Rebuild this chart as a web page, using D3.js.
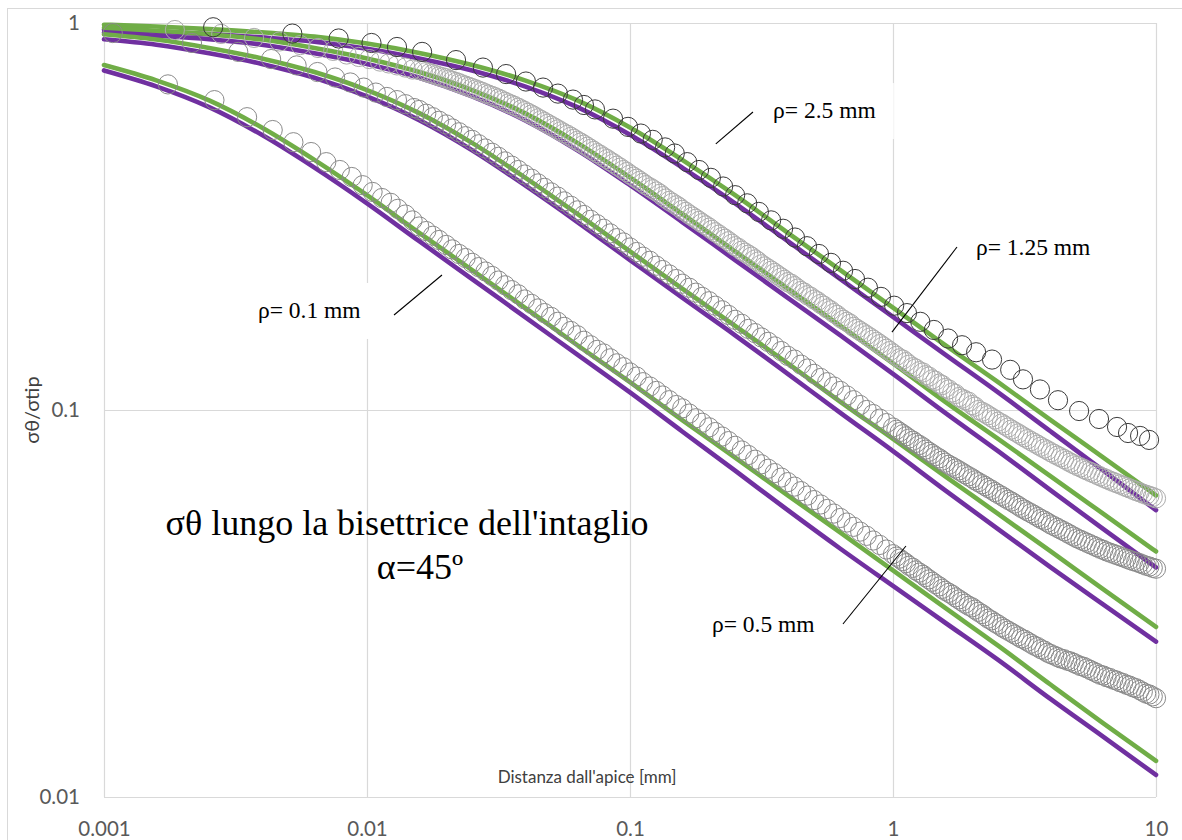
<!DOCTYPE html>
<html>
<head>
<meta charset="utf-8">
<script src="https://cdn.jsdelivr.net/npm/d3@7"></script>
<style>
  html, body { margin: 0; padding: 0; background: #ffffff; }
  svg { display: block; }
</style>
</head>
<body>
<svg id="chart" width="1182" height="840"></svg>
<script>
// ---------------------------------------------------------------
// σθ/σtip along the notch bisector, log-log, α = 45°
// ---------------------------------------------------------------

// Axis ticks
const xTicks = [0.001, 0.01, 0.1, 1, 10];
const yTicks = [0.01, 0.1, 1];

// Distances (mm) at which the two analytical solutions are tabulated
const lineX = [0.001, 0.00158, 0.00251, 0.00398, 0.00631, 0.01, 0.0158, 0.0251, 0.0398, 0.0631,
               0.1, 0.158, 0.251, 0.398, 0.631, 1, 1.58, 2.51, 3.98, 6.31, 10];

// Analytical solution 1 (green)
const greenRho25  = [0.990, 0.979, 0.964, 0.946, 0.922, 0.885, 0.837, 0.779, 0.711, 0.631, 0.537, 0.443, 0.359, 0.287, 0.230, 0.184, 0.147, 0.118, 0.0942, 0.0753, 0.0602];
const greenRho125 = [0.972, 0.955, 0.935, 0.906, 0.862, 0.810, 0.747, 0.671, 0.585, 0.490, 0.399, 0.321, 0.257, 0.206, 0.165, 0.132, 0.105, 0.0842, 0.0674, 0.0539, 0.0431];
const greenRho05  = [0.935, 0.906, 0.862, 0.810, 0.747, 0.671, 0.585, 0.490, 0.399, 0.321, 0.257, 0.206, 0.165, 0.132, 0.105, 0.0842, 0.0674, 0.0539, 0.0431, 0.0344, 0.0275];
const greenRho01  = [0.779, 0.711, 0.631, 0.537, 0.443, 0.359, 0.287, 0.230, 0.184, 0.147, 0.118, 0.0942, 0.0753, 0.0602, 0.0482, 0.0385, 0.0308, 0.0246, 0.0195, 0.0155, 0.0124];

// Analytical solution 2 (purple)
const purpleRho25  = [0.961, 0.950, 0.936, 0.918, 0.895, 0.858, 0.810, 0.754, 0.686, 0.606, 0.514, 0.423, 0.342, 0.273, 0.218, 0.174, 0.139, 0.111, 0.0880, 0.0697, 0.0551];
const purpleRho125 = [0.944, 0.927, 0.908, 0.879, 0.835, 0.784, 0.722, 0.646, 0.561, 0.469, 0.381, 0.306, 0.244, 0.195, 0.156, 0.124, 0.0983, 0.0783, 0.0620, 0.0492, 0.0392];
const purpleRho05  = [0.908, 0.879, 0.835, 0.784, 0.722, 0.646, 0.561, 0.469, 0.381, 0.306, 0.244, 0.195, 0.156, 0.124, 0.0983, 0.0783, 0.0620, 0.0492, 0.0392, 0.0314, 0.0252];
const purpleRho01  = [0.754, 0.686, 0.606, 0.514, 0.423, 0.342, 0.273, 0.218, 0.174, 0.139, 0.111, 0.0880, 0.0697, 0.0551, 0.0438, 0.0351, 0.0282, 0.0226, 0.0179, 0.0143, 0.0114];

// FEM nodes, ρ = 2.5 mm
const femXRho25 = [0.0026, 0.0052, 0.0078, 0.0104, 0.013, 0.0162, 0.0218, 0.0276, 0.0338, 0.0402,
                   0.0467, 0.0532, 0.0607, 0.0668, 0.0736, 0.0862, 0.0983, 0.110, 0.122, 0.136,
                   0.148, 0.165, 0.183, 0.203, 0.226, 0.251, 0.279, 0.309, 0.344, 0.382,
                   0.424, 0.471, 0.523, 0.581, 0.646, 0.717, 0.803, 0.900, 1.01, 1.13,
                   1.27, 1.43, 1.62, 1.83, 2.07, 2.38, 2.79, 3.12, 3.62, 4.24,
                   5.10, 6.07, 7.11, 7.83, 8.70, 9.41];
const femYRho25 = [0.975, 0.939, 0.912, 0.888, 0.867, 0.842, 0.802, 0.767, 0.738, 0.706,
                   0.681, 0.657, 0.634, 0.614, 0.598, 0.566, 0.539, 0.518, 0.499, 0.477,
                   0.460, 0.437, 0.417, 0.398, 0.378, 0.359, 0.342, 0.325, 0.309, 0.294,
                   0.279, 0.265, 0.253, 0.240, 0.229, 0.218, 0.207, 0.196, 0.186, 0.178,
                   0.169, 0.161, 0.153, 0.147, 0.141, 0.135, 0.127, 0.120, 0.113, 0.106,
                   0.0994, 0.0948, 0.0904, 0.0872, 0.0857, 0.0837];

// FEM nodes near the tip (uniform spacing) for the three finer meshes
const femXRho125Near = [0.00186, 0.00279, 0.00372, 0.00465, 0.00558, 0.00651, 0.00744, 0.00837, 0.0093, 0.0102, 0.0112, 0.0121, 0.013, 0.014, 0.0149];
const femYRho125Near = [0.959, 0.937, 0.915, 0.896, 0.877, 0.862, 0.847, 0.829, 0.817, 0.807, 0.795, 0.786, 0.777, 0.767, 0.758];
const femXRho05Near  = [0.00108, 0.00216, 0.00324, 0.00432, 0.0054, 0.00648, 0.00756, 0.00864, 0.00972, 0.0108, 0.0119, 0.013, 0.014, 0.0151];
const femYRho05Near  = [0.942, 0.888, 0.842, 0.807, 0.777, 0.747, 0.723, 0.702, 0.681, 0.661, 0.644, 0.632, 0.617, 0.603];
const femXRho01Near  = [0.00175, 0.00263, 0.0035, 0.00438, 0.00525, 0.00613, 0.007, 0.00788, 0.00875, 0.00963, 0.0105, 0.0114, 0.0123, 0.0131, 0.014, 0.0149];
const femYRho01Near  = [0.694, 0.632, 0.571, 0.529, 0.492, 0.464, 0.437, 0.417, 0.400, 0.381, 0.366, 0.353, 0.343, 0.331, 0.320, 0.309];

// FEM nodes further out (graded mesh, shared by the three finer meshes)
const femXFar = [0.0158, 0.0168, 0.0178, 0.0188, 0.0200, 0.0211, 0.0224, 0.0237, 0.0251, 0.0266,
                 0.0282, 0.0299, 0.0316, 0.0335, 0.0355, 0.0376, 0.0398, 0.0422, 0.0447, 0.0473,
                 0.0501, 0.0531, 0.0562, 0.0596, 0.0631, 0.0668, 0.0708, 0.0750, 0.0794, 0.0841,
                 0.0891, 0.0944, 0.100, 0.106, 0.112, 0.119, 0.126, 0.133, 0.141, 0.150,
                 0.158, 0.168, 0.178, 0.188, 0.200, 0.211, 0.224, 0.237, 0.251, 0.266,
                 0.282, 0.299, 0.316, 0.335, 0.355, 0.376, 0.398, 0.422, 0.447, 0.473,
                 0.501, 0.531, 0.562, 0.596, 0.631, 0.668, 0.708, 0.750, 0.794, 0.841,
                 0.891, 0.944, 1.00, 1.06, 1.12, 1.19, 1.26, 1.33, 1.41, 1.50,
                 1.58, 1.68, 1.78, 1.88, 2.00, 2.11, 2.24, 2.37, 2.51, 2.66,
                 2.82, 2.99, 3.16, 3.35, 3.55, 3.76, 3.98, 4.22, 4.47, 4.73,
                 5.01, 5.31, 5.62, 5.96, 6.31, 6.68, 7.08, 7.50, 7.94, 8.41,
                 8.91, 9.44, 10.0];
const femYRho125Far = [0.756, 0.747, 0.738, 0.728, 0.720, 0.709, 0.699, 0.689, 0.679, 0.669,
                       0.658, 0.648, 0.638, 0.626, 0.615, 0.604, 0.592, 0.580, 0.567, 0.555,
                       0.543, 0.531, 0.519, 0.508, 0.496, 0.485, 0.473, 0.461, 0.450, 0.439,
                       0.428, 0.417, 0.406, 0.396, 0.386, 0.376, 0.367, 0.357, 0.347, 0.338,
                       0.329, 0.320, 0.312, 0.304, 0.296, 0.288, 0.280, 0.273, 0.265, 0.258,
                       0.252, 0.245, 0.238, 0.232, 0.226, 0.220, 0.214, 0.209, 0.203, 0.198,
                       0.193, 0.188, 0.183, 0.178, 0.173, 0.169, 0.164, 0.160, 0.156, 0.152,
                       0.148, 0.144, 0.140, 0.136, 0.133, 0.129, 0.126, 0.123, 0.120, 0.117,
                       0.114, 0.111, 0.108, 0.106, 0.103, 0.100, 0.0980, 0.0957, 0.0933, 0.0912,
                       0.0890, 0.0870, 0.0850, 0.0831, 0.0813, 0.0795, 0.0778, 0.0762, 0.0747, 0.0731,
                       0.0717, 0.0704, 0.0692, 0.0680, 0.0668, 0.0657, 0.0647, 0.0637, 0.0627, 0.0617,
                       0.0608, 0.0600, 0.0591];
const femYRho05Far = [0.596, 0.583, 0.571, 0.559, 0.547, 0.534, 0.522, 0.510, 0.499, 0.486,
                      0.474, 0.462, 0.451, 0.439, 0.428, 0.417, 0.406, 0.396, 0.385, 0.375,
                      0.365, 0.356, 0.346, 0.337, 0.328, 0.319, 0.310, 0.302, 0.294, 0.286,
                      0.278, 0.271, 0.263, 0.256, 0.249, 0.243, 0.236, 0.230, 0.224, 0.218,
                      0.212, 0.207, 0.201, 0.196, 0.191, 0.186, 0.181, 0.176, 0.171, 0.167,
                      0.162, 0.158, 0.154, 0.150, 0.146, 0.142, 0.138, 0.135, 0.131, 0.128,
                      0.124, 0.121, 0.118, 0.115, 0.112, 0.109, 0.106, 0.103, 0.100, 0.0976,
                      0.0950, 0.0925, 0.0901, 0.0877, 0.0855, 0.0833, 0.0812, 0.0790, 0.0770, 0.0750,
                      0.0731, 0.0714, 0.0698, 0.0682, 0.0666, 0.0651, 0.0636, 0.0622, 0.0607, 0.0593,
                      0.0580, 0.0566, 0.0553, 0.0541, 0.0529, 0.0518, 0.0506, 0.0496, 0.0486, 0.0476,
                      0.0466, 0.0458, 0.0450, 0.0442, 0.0435, 0.0428, 0.0422, 0.0416, 0.0410, 0.0405,
                      0.0399, 0.0394, 0.0389];
const femYRho01Far = [0.298, 0.290, 0.282, 0.275, 0.267, 0.260, 0.253, 0.247, 0.240, 0.234,
                      0.228, 0.222, 0.216, 0.210, 0.204, 0.199, 0.193, 0.188, 0.183, 0.178,
                      0.174, 0.169, 0.164, 0.160, 0.156, 0.151, 0.147, 0.143, 0.140, 0.136,
                      0.132, 0.129, 0.125, 0.122, 0.118, 0.115, 0.112, 0.109, 0.106, 0.103,
                      0.101, 0.0979, 0.0952, 0.0927, 0.0902, 0.0877, 0.0854, 0.0831, 0.0808, 0.0786,
                      0.0765, 0.0744, 0.0724, 0.0705, 0.0687, 0.0669, 0.0651, 0.0634, 0.0617, 0.0601,
                      0.0585, 0.0570, 0.0555, 0.0540, 0.0526, 0.0512, 0.0499, 0.0485, 0.0473, 0.0460,
                      0.0448, 0.0436, 0.0424, 0.0413, 0.0402, 0.0391, 0.0380, 0.0370, 0.0360, 0.0350,
                      0.0341, 0.0333, 0.0324, 0.0316, 0.0309, 0.0301, 0.0293, 0.0286, 0.0279, 0.0272,
                      0.0266, 0.0260, 0.0255, 0.0249, 0.0244, 0.0239, 0.0234, 0.0230, 0.0227, 0.0224,
                      0.0220, 0.0217, 0.0213, 0.0209, 0.0206, 0.0203, 0.0200, 0.0197, 0.0194, 0.0191,
                      0.0187, 0.0184, 0.0180];

// Intermediate nodes of the refined outer mesh (all of ρ = 1.25 mm, and x ≥ 1 mm for ρ = 0.5 / 0.1 mm)
const femXMid = [0.0163, 0.0173, 0.0183, 0.0194, 0.0205, 0.0218, 0.0230, 0.0244, 0.0259, 0.0274,
                 0.0290, 0.0307, 0.0325, 0.0345, 0.0365, 0.0387, 0.0410, 0.0434, 0.0460, 0.0487,
                 0.0516, 0.0546, 0.0579, 0.0613, 0.0649, 0.0688, 0.0729, 0.0772, 0.0818, 0.0866,
                 0.0917, 0.0972, 0.103, 0.109, 0.115, 0.122, 0.130, 0.137, 0.145, 0.154,
                 0.163, 0.173, 0.183, 0.194, 0.205, 0.218, 0.230, 0.244, 0.259, 0.274,
                 0.290, 0.307, 0.325, 0.345, 0.365, 0.387, 0.410, 0.434, 0.460, 0.487,
                 0.516, 0.546, 0.579, 0.613, 0.649, 0.688, 0.729, 0.772, 0.818, 0.866,
                 0.917, 0.972, 1.03, 1.09, 1.15, 1.22, 1.30, 1.37, 1.45, 1.54,
                 1.63, 1.73, 1.83, 1.94, 2.05, 2.18, 2.30, 2.44, 2.59, 2.74,
                 2.90, 3.07, 3.25, 3.45, 3.65, 3.87, 4.10, 4.34, 4.60, 4.87,
                 5.16, 5.46, 5.79, 6.13, 6.49, 6.88, 7.29, 7.72, 8.18, 8.66,
                 9.17, 9.72];
const femYRho125Mid = [0.752, 0.742, 0.733, 0.724, 0.714, 0.704, 0.694, 0.684, 0.674, 0.664,
                       0.653, 0.643, 0.632, 0.620, 0.610, 0.598, 0.586, 0.574, 0.561, 0.549,
                       0.537, 0.525, 0.514, 0.502, 0.491, 0.479, 0.467, 0.456, 0.445, 0.434,
                       0.423, 0.412, 0.401, 0.391, 0.381, 0.372, 0.362, 0.352, 0.343, 0.334,
                       0.325, 0.316, 0.308, 0.300, 0.292, 0.284, 0.277, 0.269, 0.262, 0.255,
                       0.249, 0.242, 0.235, 0.229, 0.223, 0.217, 0.212, 0.206, 0.201, 0.196,
                       0.191, 0.186, 0.181, 0.176, 0.171, 0.167, 0.162, 0.158, 0.154, 0.150,
                       0.146, 0.142, 0.138, 0.135, 0.131, 0.128, 0.125, 0.122, 0.119, 0.116,
                       0.113, 0.110, 0.107, 0.105, 0.102, 0.0990, 0.0969, 0.0945, 0.0923, 0.0901,
                       0.0880, 0.0860, 0.0841, 0.0822, 0.0804, 0.0787, 0.0770, 0.0755, 0.0739, 0.0724,
                       0.0711, 0.0698, 0.0686, 0.0674, 0.0663, 0.0652, 0.0642, 0.0632, 0.0622, 0.0613,
                       0.0604, 0.0596];
const femYRho05Mid = [0.0889, 0.0866, 0.0844, 0.0822, 0.0801, 0.0780, 0.0760, 0.0740, 0.0722, 0.0706,
                      0.0690, 0.0674, 0.0658, 0.0643, 0.0629, 0.0614, 0.0600, 0.0586, 0.0573, 0.0559,
                      0.0547, 0.0535, 0.0523, 0.0512, 0.0501, 0.0491, 0.0481, 0.0471, 0.0462, 0.0454,
                      0.0446, 0.0438, 0.0431, 0.0425, 0.0419, 0.0413, 0.0407, 0.0402, 0.0396, 0.0391];
const femYRho01Mid = [0.0418, 0.0407, 0.0396, 0.0385, 0.0375, 0.0365, 0.0355, 0.0345, 0.0337, 0.0328,
                      0.0320, 0.0312, 0.0305, 0.0297, 0.0289, 0.0282, 0.0275, 0.0269, 0.0263, 0.0257,
                      0.0252, 0.0246, 0.0241, 0.0236, 0.0232, 0.0228, 0.0225, 0.0222, 0.0218, 0.0215,
                      0.0211, 0.0207, 0.0204, 0.0201, 0.0198, 0.0195, 0.0192, 0.0189, 0.0185, 0.0182];

// Curve labels: text anchor and leader line, in data units
const rhoLabels = [
  { text: "ρ= 2.5 mm",  at: [0.350, 0.568],   from: [0.212, 0.487],   to: [0.2935, 0.589] },
  { text: "ρ= 1.25 mm", at: [2.068, 0.2516],  from: [0.991, 0.159],   to: [1.751, 0.2637] },
  { text: "ρ= 0.1 mm",  at: [0.00385, 0.1729], from: [0.01267, 0.176], to: [0.01928, 0.2233] },
  { text: "ρ= 0.5 mm",  at: [0.205, 0.0267],  from: [0.6453, 0.02799], to: [1.12, 0.04452] }
];

// ---------------------------------------------------------------
const svg = d3.select("#chart");
const plot = { left: 104, right: 1156, top: 23, bottom: 797 };

const x = d3.scaleLog().domain([0.001, 10]).range([plot.left, plot.right]);
const y = d3.scaleLog().domain([0.01, 1]).range([plot.bottom, plot.top]);

const gridColor = "#d9d9d9";
const tickFont = "Lato, 'Liberation Sans', sans-serif";
const fmt = d3.format("~g");

// chart area border
svg.append("rect")
  .attr("x", 7.5).attr("y", 8.5)
  .attr("width", 1200).attr("height", 900)
  .attr("fill", "#ffffff")
  .attr("stroke", gridColor).attr("stroke-width", 1);

// vertical gridlines + x tick labels
const gx = svg.append("g")
  .attr("transform", `translate(0,${plot.bottom})`)
  .call(d3.axisBottom(x).tickValues(xTicks).tickFormat(fmt)
        .tickSize(-(plot.bottom - plot.top)).tickPadding(24));
gx.select(".domain").remove();
gx.selectAll(".tick line").attr("stroke", gridColor).attr("stroke-width", 1.2);
gx.selectAll(".tick text").attr("fill", "#595959")
  .style("font-family", tickFont).style("font-size", "20.5px");

// horizontal gridlines + y tick labels
const gy = svg.append("g")
  .attr("transform", `translate(${plot.left},0)`)
  .call(d3.axisLeft(y).tickValues(yTicks).tickFormat(fmt)
        .tickSize(-(plot.right - plot.left)).tickPadding(24));
gy.select(".domain").remove();
gy.selectAll(".tick line").attr("stroke", gridColor).attr("stroke-width", 1.2);
gy.selectAll(".tick text").attr("fill", "#595959")
  .style("font-family", tickFont).style("font-size", "20.5px");

// white boxes behind the curve labels (they mask the gridlines)
const labelLayer = svg.append("g");
rhoLabels.forEach(l => {
  const g = labelLayer.append("g");
  const rect = g.append("rect").attr("fill", "#ffffff");
  const t = g.append("text")
    .attr("x", x(l.at[0])).attr("y", y(l.at[1]))
    .style("font-family", "'Liberation Serif', 'Times New Roman', serif")
    .style("font-size", "23.5px").attr("fill", "#000")
    .text(l.text);
  const bb = t.node().getBBox();
  const base = y(l.at[1]);
  rect.attr("x", bb.x - 10).attr("y", base - 35)
      .attr("width", bb.width + 28).attr("height", 56);
});

// title inside the plot
const titleFont = "'Liberation Serif', 'Times New Roman', serif";
svg.append("text").attr("x", 407).attr("y", 535).attr("text-anchor", "middle")
  .style("font-family", titleFont).style("font-size", "36px").attr("fill", "#000")
  .text("σθ lungo la bisettrice dell'intaglio");
svg.append("text").attr("x", 420).attr("y", 579).attr("text-anchor", "middle")
  .style("font-family", titleFont).style("font-size", "36px").attr("fill", "#000")
  .text("α=45º");

// axis titles
svg.append("text").attr("x", 587).attr("y", 783).attr("text-anchor", "middle")
  .style("font-family", tickFont).style("font-size", "17px").attr("fill", "#404040")
  .text("Distanza dall'apice [mm]");
svg.append("text")
  .attr("transform", "translate(39,410) rotate(-90)")
  .attr("text-anchor", "middle")
  .style("font-family", tickFont).style("font-size", "20px").attr("fill", "#404040")
  .text("σθ/σtip");

// analytical curves
const line = d3.line().x(d => x(d.x)).y(d => y(d.y)).curve(d3.curveMonotoneX);
const toPts = (xs, ys) => xs.map((v, i) => ({ x: v, y: ys[i] }));

const purpleSets = [purpleRho25, purpleRho125, purpleRho05, purpleRho01];
const greenSets  = [greenRho25, greenRho125, greenRho05, greenRho01];

svg.append("g").selectAll("path").data(purpleSets).join("path")
  .attr("d", ys => line(toPts(lineX, ys)))
  .attr("fill", "none").attr("stroke", "#7030a0").attr("stroke-width", 4.6)
  .attr("stroke-linecap", "round");
svg.append("g").selectAll("path").data(greenSets).join("path")
  .attr("d", ys => line(toPts(lineX, ys)))
  .attr("fill", "none").attr("stroke", "#70ad47").attr("stroke-width", 4.6)
  .attr("stroke-linecap", "round");

// FEM results (hollow circles)
const outerMidX = femXMid.slice(72);   // nodes beyond 1 mm
const femSeries = [
  { pts: toPts(femXRho125Near, femYRho125Near)
          .concat(toPts(femXFar, femYRho125Far), toPts(femXMid, femYRho125Mid)), stroke: "#ababab" },
  { pts: toPts(femXRho05Near, femYRho05Near)
          .concat(toPts(femXFar, femYRho05Far), toPts(outerMidX, femYRho05Mid)), stroke: "#8a8a8a" },
  { pts: toPts(femXRho01Near, femYRho01Near)
          .concat(toPts(femXFar, femYRho01Far), toPts(outerMidX, femYRho01Mid)), stroke: "#8a8a8a" },
  { pts: toPts(femXRho25, femYRho25), stroke: "#3a3a3a" }
];
femSeries.forEach(s => {
  svg.append("g").selectAll("circle").data(s.pts).join("circle")
    .attr("cx", d => x(d.x)).attr("cy", d => y(d.y)).attr("r", 9.6)
    .attr("fill", "none").attr("stroke", s.stroke).attr("stroke-width", 1);
});

// leader lines
svg.append("g").selectAll("line").data(rhoLabels).join("line")
  .attr("x1", d => x(d.from[0])).attr("y1", d => y(d.from[1]))
  .attr("x2", d => x(d.to[0])).attr("y2", d => y(d.to[1]))
  .attr("stroke", "#000").attr("stroke-width", 1.1);
</script>
</body>
</html>
